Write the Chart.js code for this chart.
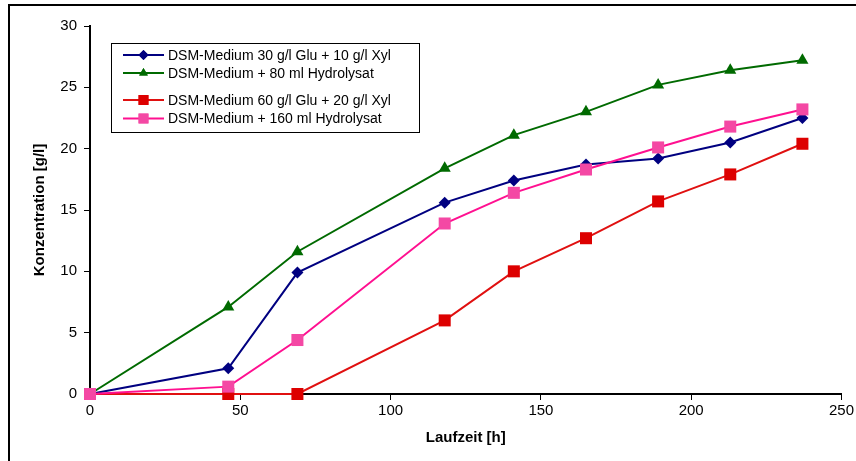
<!DOCTYPE html>
<html>
<head>
<meta charset="utf-8">
<script src="https://cdn.jsdelivr.net/npm/chart.js@4"></script>
<style>
  html, body { margin: 0; padding: 0; background: #fff; }
  #wrap { width: 856px; height: 461px; }
</style>
</head>
<body>
<div id="wrap"><canvas id="grafico" width="856" height="461"></canvas></div>
<script>
const laufzeit = [0, 46, 69, 118, 141, 165, 189, 213, 237];
const glu30 = [0, 2.1, 9.9, 15.6, 17.4, 18.7, 19.2, 20.5, 22.5];
const hydro80 = [0, 7.1, 11.6, 18.4, 21.1, 23.0, 25.2, 26.4, 27.2];
const glu60 = [0, 0, 0, 6.0, 10.0, 12.7, 15.7, 17.9, 20.4];
const hydro160 = [0, 0.6, 4.4, 13.9, 16.4, 18.3, 20.1, 21.8, 23.2];

const namen = [
  'DSM-Medium 30 g/l Glu + 10 g/l Xyl',
  'DSM-Medium + 80 ml Hydrolysat',
  'DSM-Medium 60 g/l Glu + 20 g/l Xyl',
  'DSM-Medium + 160 ml Hydrolysat'
];
const xTicks = [0, 50, 100, 150, 200, 250];
const yTicks = [0, 5, 10, 15, 20, 25, 30];

const schrift = '"Liberation Sans", Arial, sans-serif';

function punkte(werte) {
  return werte.map((v, i) => ({ x: laufzeit[i], y: v }));
}

function serie(idx, werte, linie, punkt, stil, radius, ordnung) {
  return {
    label: namen[idx],
    data: punkte(werte),
    borderColor: linie,
    backgroundColor: punkt,
    pointBackgroundColor: punkt,
    pointBorderColor: punkt,
    pointBorderWidth: 0,
    pointStyle: stil,
    pointRadius: radius,
    borderWidth: 2,
    tension: 0,
    clip: false,
    order: ordnung
  };
}

const datensaetze = [
  serie(0, glu30, '#000080', '#000080', 'rectRot', 6, 2),
  serie(1, hydro80, '#006a00', '#006a00', 'triangle', 7, 3),
  serie(2, glu60, '#e01010', '#dd0000', 'rect', 8.5, 1),
  serie(3, hydro160, '#ff1090', '#f448a4', 'rect', 8.5, 0)
];

// legend box with a gap between the two groups, drawn by hand
const legendePlugin = {
  id: 'legende',
  afterDraw(chart) {
    const ctx = chart.ctx;
    ctx.save();
    ctx.fillStyle = '#fff';
    ctx.fillRect(111, 43, 308, 89);
    ctx.strokeStyle = '#000';
    ctx.lineWidth = 1;
    ctx.strokeRect(111.5, 43.5, 308, 89);
    const zeilen = [55, 73, 100, 118.5];
    ctx.font = '14px ' + schrift;
    ctx.textBaseline = 'middle';
    datensaetze.forEach((d, i) => {
      const y = zeilen[i];
      ctx.strokeStyle = d.borderColor;
      ctx.lineWidth = 2;
      ctx.beginPath();
      ctx.moveTo(123, y);
      ctx.lineTo(164, y);
      ctx.stroke();
      ctx.fillStyle = d.pointBackgroundColor;
      Chart.helpers.drawPoint(ctx, {
        pointStyle: d.pointStyle,
        radius: d.pointStyle === 'rect' ? 7 : 5,
        borderWidth: 0,
        rotation: 0
      }, 143.5, y);
      ctx.fill();
      ctx.fillStyle = '#000';
      ctx.fillText(d.label, 168, y + 1);
    });
    ctx.restore();
  }
};

const rahmenPlugin = {
  id: 'rahmen',
  afterDraw(chart) {
    const ctx = chart.ctx;
    ctx.save();
    ctx.strokeStyle = '#000';
    ctx.lineWidth = 2;
    ctx.strokeRect(9, 5, 856, 470);
    ctx.restore();
  }
};

new Chart(document.getElementById('grafico').getContext('2d'), {
  type: 'line',
  data: { datasets: datensaetze },
  plugins: [legendePlugin, rahmenPlugin],
  options: {
    responsive: false,
    animation: false,
    layout: { padding: { left: 0, top: 26, right: 13, bottom: 0 } },
    plugins: { legend: { display: false }, tooltip: { enabled: false } },
    scales: {
      x: {
        type: 'linear',
        min: 0,
        max: 250,
        afterBuildTicks(scale) { scale.ticks = xTicks.map(v => ({ value: v })); },
        afterFit(scale) { scale.height = 67; },
        ticks: { color: '#000', font: { family: schrift, size: 15 }, padding: 2, maxRotation: 0 },
        grid: { display: true, drawOnChartArea: false, drawTicks: true, tickLength: 6, color: '#000', lineWidth: 1 },
        border: { display: true, color: '#000', width: 2 },
        title: { display: true, text: 'Laufzeit [h]', color: '#000', font: { family: schrift, size: 15, weight: 'bold' }, padding: { bottom: 14 } }
      },
      y: {
        min: 0,
        max: 30,
        afterBuildTicks(scale) { scale.ticks = yTicks.map(v => ({ value: v })); },
        afterFit(scale) { scale.width = 90; },
        ticks: { color: '#000', font: { family: schrift, size: 15 }, padding: 7 },
        grid: { display: true, drawOnChartArea: false, drawTicks: true, tickLength: 6, color: '#000', lineWidth: 1 },
        border: { display: true, color: '#000', width: 2 },
        title: { display: true, text: 'Konzentration [g/l]', color: '#000', font: { family: schrift, size: 15, weight: 'bold' }, padding: { top: 31 } }
      }
    }
  }
});
</script>
</body>
</html>
